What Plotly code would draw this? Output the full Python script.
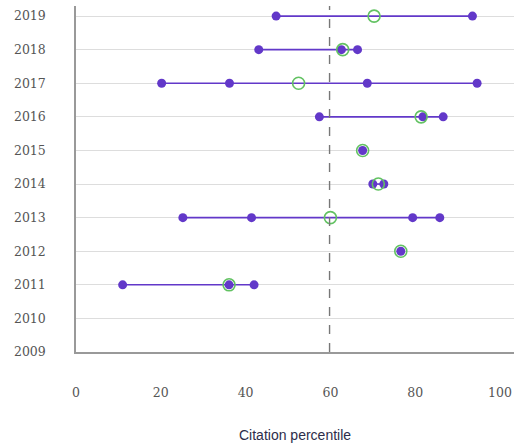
import plotly.graph_objects as go

years = [2019, 2018, 2017, 2016, 2015, 2014, 2013, 2012, 2011]
# purple points (individual percentiles) per year
purple = [
    [47.2, 93.5],
    [43.1, 62.6, 66.4],
    [20.2, 36.2, 68.7, 94.6],
    [57.4, 81.8, 86.6],
    [67.6],
    [70.0, 72.6],
    [25.2, 41.4, 79.4, 85.8],
    [76.6],
    [11.0, 36.1, 42.0],
]
# green open circle (median) per year
green = [70.3, 62.9, 52.5, 81.4, 67.6, 71.3, 60.0, 76.6, 36.1]
ref_value = 59.8
x_ticks = [0, 20, 40, 60, 80, 100]
y_ticks = list(range(2009, 2020))
x_title = "Citation percentile"

PURPLE = "#6238c9"
GREEN = "#62c262"

fig = go.Figure()

# range lines
lx, ly = [], []
for y, vals in zip(years, purple):
    if len(vals) > 1:
        lx += [min(vals), max(vals), None]
        ly += [y, y, None]
fig.add_trace(go.Scatter(x=lx, y=ly, mode="lines",
                         line=dict(color=PURPLE, width=1.6),
                         hoverinfo="skip", showlegend=False))

px_, py_ = [], []
for y, vals in zip(years, purple):
    for v in vals:
        px_.append(v)
        py_.append(y)
fig.add_trace(go.Scatter(x=px_, y=py_, mode="markers",
                         marker=dict(color=PURPLE, size=9),
                         showlegend=False))

fig.add_trace(go.Scatter(x=green, y=years, mode="markers",
                         marker=dict(color="rgba(0,0,0,0)", size=12,
                                     line=dict(color=GREEN, width=1.6)),
                         showlegend=False))

fig.add_shape(type="line", x0=ref_value, x1=ref_value, y0=0, y1=1,
              xref="x", yref="paper",
              line=dict(color="#777777", width=1.4, dash="dash"))

fig.add_annotation(text=x_title, x=0.5, xref="paper", y=0, yref="paper",
                   yanchor="middle", yshift=-83, showarrow=False,
                   font=dict(family="Liberation Sans", size=14, color="#2d2d4a"))

fig.update_layout(
    width=524, height=445,
    margin=dict(l=76, r=10, t=6, b=93),
    plot_bgcolor="white", paper_bgcolor="white",
    font=dict(family="DejaVu Serif", size=13, color="#555555"),
)
fig.update_xaxes(range=[0, 103.3], tickvals=x_ticks, showgrid=False,
                 zeroline=False, showline=True, linecolor="#999999", linewidth=1.5,
                 ticks="", ticklabelstandoff=28, automargin=False,
                 tickfont=dict(family="DejaVu Serif", size=12.5, color="#555555"))
fig.update_yaxes(range=[2009, 2019.3], tickvals=y_ticks, showgrid=True,
                 gridcolor="#dddddd", gridwidth=1, zeroline=False,
                 showline=True, linecolor="#999999", linewidth=1.5,
                 ticks="", ticklabelstandoff=26, automargin=False,
                 tickfont=dict(family="DejaVu Serif", size=12.5, color="#555555"))

fig.write_html("out.html", post_script="document.body.style.margin='0';",
               config={"displayModeBar": False})
